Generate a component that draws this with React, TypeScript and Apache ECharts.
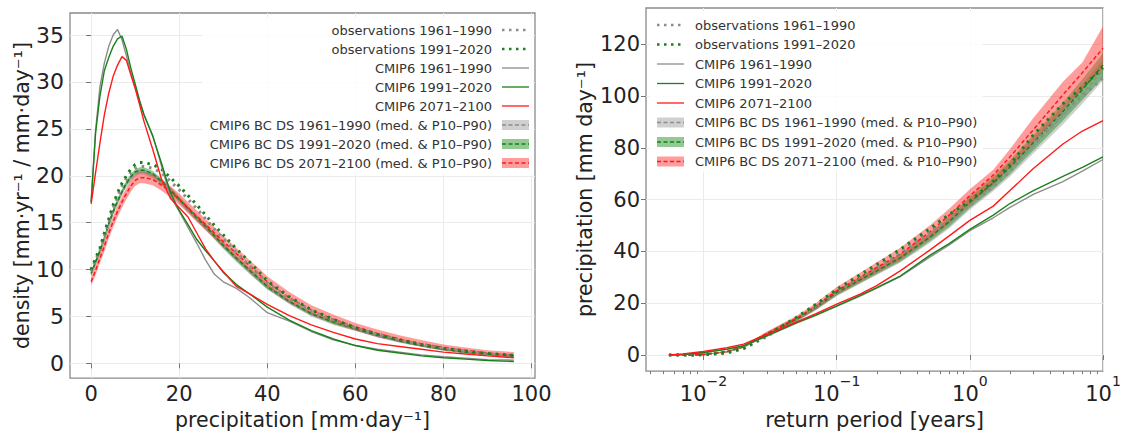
import React, { useEffect, useRef } from "react";
import * as echarts from "echarts";

// ---------- Left panel: density of daily precipitation ----------
const PRECIP = [0, 1, 2, 3, 4, 5, 6, 7, 8, 9, 10, 11, 12, 14, 16, 18, 20, 22, 24, 26, 28, 30, 33, 36, 40, 45, 50, 55, 60, 65, 70, 75, 80, 85, 90, 96];

const OBS61_DENS = [9.8, 11.0, 12.0, 13.5, 15.0, 16.5, 17.8, 18.9, 19.7, 20.3, 20.8, 21.0, 21.0, 20.8, 20.3, 19.4, 18.5, 17.5, 16.5, 15.4, 14.3, 13.3, 11.8, 10.4, 8.6, 6.9, 5.6, 4.6, 3.8, 3.1, 2.5, 2.0, 1.6, 1.3, 1.0, 0.85];
const OBS91_DENS = [10.0, 11.2, 12.3, 13.9, 15.4, 16.9, 18.2, 19.2, 20.0, 20.7, 21.2, 21.4, 21.4, 21.2, 20.7, 19.8, 18.9, 17.9, 16.9, 15.8, 14.7, 13.7, 12.2, 10.8, 8.8, 7.1, 5.7, 4.7, 3.8, 3.1, 2.5, 2.0, 1.6, 1.3, 1.05, 0.85];
const CM61_DENS = [17.2, 24.8, 29.5, 32.0, 33.8, 35.0, 35.6, 34.5, 32.8, 31.0, 29.6, 28.0, 26.5, 24.3, 21.0, 17.8, 16.2, 14.5, 12.8, 11.0, 9.5, 8.7, 8.0, 7.0, 5.4, 4.5, 3.4, 2.5, 1.9, 1.5, 1.2, 0.9, 0.7, 0.55, 0.4, 0.35];
const CM91_DENS = [17.2, 24.5, 28.5, 31.2, 32.6, 33.8, 34.6, 34.9, 33.5, 31.5, 29.8, 28.0, 26.5, 24.2, 21.3, 18.2, 16.3, 14.8, 13.2, 12.0, 10.9, 9.7, 8.4, 7.4, 6.0, 4.6, 3.5, 2.6, 1.9, 1.4, 1.1, 0.8, 0.6, 0.45, 0.3, 0.2];
const CM21_DENS = [17.0, 20.3, 23.5, 26.5, 28.8, 30.6, 31.8, 32.7, 32.3, 30.8, 29.3, 27.6, 25.8, 22.8, 19.6, 17.6, 16.6, 15.6, 13.9, 12.2, 10.9, 9.8, 8.2, 7.4, 6.3, 5.1, 4.1, 3.3, 2.6, 2.1, 1.8, 1.5, 1.2, 1.0, 0.8, 0.6];

const BC61_DENS_MED = [9.5, 10.7, 11.9, 13.3, 14.8, 16.1, 17.2, 18.2, 19.1, 19.7, 20.2, 20.4, 20.4, 20.0, 19.3, 18.4, 17.4, 16.4, 15.4, 14.5, 13.5, 12.5, 11.1, 9.8, 8.1, 6.5, 5.2, 4.3, 3.6, 2.9, 2.35, 1.85, 1.45, 1.15, 0.95, 0.75];
const BC61_DENS_LO = [9.2, 10.4, 11.6, 13.0, 14.5, 15.8, 16.9, 17.9, 18.8, 19.4, 19.9, 20.1, 20.1, 19.7, 19.0, 18.1, 17.1, 16.1, 15.1, 14.2, 13.2, 12.2, 10.8, 9.5, 7.9, 6.3, 5.0, 4.1, 3.45, 2.75, 2.2, 1.75, 1.35, 1.05, 0.85, 0.65];
const BC61_DENS_HI = [9.8, 11.0, 12.2, 13.6, 15.1, 16.4, 17.5, 18.5, 19.4, 20.0, 20.5, 20.7, 20.7, 20.3, 19.6, 18.7, 17.7, 16.7, 15.7, 14.8, 13.8, 12.8, 11.4, 10.1, 8.3, 6.7, 5.4, 4.5, 3.75, 3.05, 2.5, 1.95, 1.55, 1.25, 1.05, 0.85];
const BC91_DENS_MED = [9.6, 10.8, 12.0, 13.4, 14.9, 16.2, 17.3, 18.3, 19.2, 19.9, 20.4, 20.6, 20.6, 20.2, 19.4, 18.5, 17.5, 16.5, 15.5, 14.6, 13.6, 12.6, 11.2, 9.9, 8.2, 6.6, 5.3, 4.4, 3.7, 3.0, 2.4, 1.9, 1.5, 1.2, 1.0, 0.8];
const BC91_DENS_LO = [9.3, 10.5, 11.7, 13.1, 14.6, 15.9, 17.0, 18.0, 18.9, 19.6, 20.1, 20.3, 20.3, 19.9, 19.1, 18.2, 17.2, 16.2, 15.2, 14.3, 13.3, 12.3, 10.9, 9.6, 7.9, 6.4, 5.1, 4.2, 3.5, 2.85, 2.25, 1.8, 1.4, 1.1, 0.9, 0.7];
const BC91_DENS_HI = [9.9, 11.1, 12.3, 13.7, 15.2, 16.5, 17.6, 18.6, 19.5, 20.2, 20.7, 20.9, 20.9, 20.5, 19.7, 18.8, 17.8, 16.8, 15.8, 14.9, 13.9, 12.9, 11.5, 10.2, 8.5, 6.8, 5.5, 4.6, 3.9, 3.15, 2.55, 2.0, 1.6, 1.3, 1.1, 0.9];
const BC21_DENS_MED = [8.7, 9.9, 11.2, 12.5, 13.9, 15.1, 16.2, 17.2, 18.1, 18.9, 19.5, 19.8, 19.8, 19.6, 19.0, 18.3, 17.5, 16.6, 15.7, 14.8, 13.9, 13.0, 11.7, 10.4, 8.7, 7.0, 5.7, 4.7, 3.9, 3.2, 2.6, 2.1, 1.7, 1.4, 1.1, 0.9];
const BC21_DENS_LO = [8.3, 9.4, 10.7, 11.9, 13.3, 14.5, 15.6, 16.6, 17.5, 18.3, 18.9, 19.2, 19.2, 19.0, 18.4, 17.7, 16.9, 16.0, 15.1, 14.2, 13.3, 12.4, 11.1, 9.8, 8.2, 6.5, 5.2, 4.3, 3.5, 2.8, 2.3, 1.8, 1.4, 1.1, 0.8, 0.6];
const BC21_DENS_HI = [9.1, 10.4, 11.7, 13.1, 14.5, 15.7, 16.8, 17.8, 18.7, 19.5, 20.1, 20.4, 20.4, 20.2, 19.6, 18.9, 18.1, 17.2, 16.3, 15.4, 14.5, 13.6, 12.3, 11.0, 9.3, 7.6, 6.2, 5.2, 4.3, 3.6, 3.0, 2.5, 2.0, 1.7, 1.4, 1.2];

// ---------- Right panel: return levels ----------
const RETURN_PERIOD = [0.0055, 0.007, 0.01, 0.015, 0.02, 0.03, 0.05, 0.07, 0.1, 0.15, 0.2, 0.3, 0.5, 0.7, 1, 1.5, 2, 3, 5, 7, 10];

const OBS61_RL = [0, 0, 0.1, 0.8, 2.4, 7.2, 14.0, 19.0, 24.5, 30.3, 34.0, 39.5, 47.5, 52.8, 57.8, 65.0, 71.0, 81.5, 93.5, 100.0, 107.0];
const OBS91_RL = [0, 0, 0.1, 0.9, 2.6, 7.6, 14.6, 19.6, 25.3, 31.0, 35.0, 40.8, 48.8, 54.3, 59.5, 67.0, 73.5, 85.0, 97.0, 103.5, 111.0];
const CM61_RL = [0, 0.2, 0.9, 2.2, 3.5, 7.3, 12.3, 15.3, 18.8, 22.8, 25.8, 30.3, 37.8, 42.5, 48.0, 53.0, 57.0, 62.0, 67.0, 71.0, 75.5];
const CM91_RL = [0, 0.2, 1.0, 2.3, 3.6, 7.5, 12.5, 15.5, 19.0, 23.0, 26.0, 30.5, 38.5, 43.0, 48.5, 54.0, 58.5, 63.5, 69.0, 72.5, 76.5];
const CM21_RL = [0, 0.4, 1.4, 2.8, 4.2, 8.0, 12.8, 16.0, 19.7, 23.5, 26.8, 32.5, 40.5, 46.0, 52.0, 57.5, 63.5, 72.0, 81.5, 86.5, 90.5];

const BC61_RL_MED = [0, 0, 0.2, 1.2, 3.1, 8.0, 13.6, 18.2, 23.8, 28.7, 32.2, 37.1, 45.0, 50.9, 58.3, 65.7, 71.5, 80.8, 92.5, 100.8, 110.0];
const BC61_RL_LO = [0, 0, 0.1, 0.9, 2.7, 7.4, 12.8, 17.3, 22.7, 27.5, 30.9, 35.6, 43.3, 48.9, 56.1, 63.2, 68.8, 77.8, 89.0, 97.0, 106.0];
const BC61_RL_HI = [0, 0, 0.3, 1.5, 3.5, 8.6, 14.4, 19.1, 24.9, 29.9, 33.5, 38.6, 46.7, 52.9, 60.5, 68.2, 74.2, 83.8, 96.0, 104.6, 114.0];
const BC91_RL_MED = [0, 0, 0.2, 1.3, 3.2, 8.2, 13.8, 18.4, 24.1, 29.0, 32.5, 37.5, 45.5, 51.5, 59.0, 66.5, 72.5, 82.0, 94.0, 102.5, 112.0];
const BC91_RL_LO = [0, 0, 0.1, 1.0, 2.8, 7.6, 13.0, 17.5, 23.0, 27.8, 31.2, 36.0, 43.8, 49.5, 56.8, 64.0, 69.8, 79.0, 90.5, 98.5, 107.0];
const BC91_RL_HI = [0, 0, 0.3, 1.6, 3.6, 8.8, 14.6, 19.3, 25.2, 30.2, 33.8, 39.0, 47.2, 53.5, 61.2, 69.0, 75.2, 85.0, 97.5, 106.5, 116.5];
const BC21_RL_MED = [0, 0, 0.2, 1.3, 3.3, 8.4, 14.2, 18.9, 24.8, 30.0, 33.8, 39.0, 47.5, 54.0, 61.5, 69.5, 76.5, 87.0, 100.5, 109.0, 118.5];
const BC21_RL_LO = [0, 0, 0.1, 1.0, 2.9, 7.7, 13.2, 17.7, 23.3, 28.2, 31.8, 36.6, 44.8, 50.8, 57.8, 65.8, 72.3, 82.0, 94.5, 102.5, 110.5];
const BC21_RL_HI = [0, 0, 0.3, 1.6, 3.7, 9.1, 15.2, 20.1, 26.3, 31.8, 35.8, 41.4, 50.0, 56.5, 64.0, 71.5, 79.5, 91.5, 105.5, 113.0, 127.0];

// ---------- Tick labels / legend ----------
const DENS_Y_TICKS = [0, 5, 10, 15, 20, 25, 30, 35];
const DENS_X_TICKS = [0, 20, 40, 60, 80, 100];
const RL_Y_TICKS = [0, 20, 40, 60, 80, 100, 120];
const RL_X_TICKS = [0.01, 0.1, 1, 10];

const LEGEND_LABELS = [
  "observations 1961–1990",
  "observations 1991–2020",
  "CMIP6 1961–1990",
  "CMIP6 1991–2020",
  "CMIP6 2071–2100",
  "CMIP6 BC DS 1961–1990 (med. & P10–P90)",
  "CMIP6 BC DS 1991–2020 (med. & P10–P90)",
  "CMIP6 BC DS 2071–2100 (med. & P10–P90)",
];
const LEGEND_KINDS = ["dot", "dot", "line", "line", "line", "band", "band", "band"];

const FONT = "DejaVu Sans";
const GRAY = "#8c8c8c";
const GREEN = "#1a801a";
const RED = "#ff1a1a";
const LEGEND_COLORS = [GRAY, GREEN, GRAY, GREEN, RED, GRAY, GREEN, RED];
const BAND_FILL: Record<string, string> = {
  [GRAY]: "rgba(150,150,150,0.45)",
  [GREEN]: "rgba(40,150,40,0.5)",
  [RED]: "rgba(255,60,60,0.5)",
};

const pairs = (xs: number[], ys: number[]) => xs.map((x, i) => [x, ys[i]]);

function lineSeries(xs: number[], ys: number[], gi: number, color: string, kind: string) {
  const style: any = { color, width: 1.4 };
  if (kind === "dot") {
    style.width = 3;
    style.type = [2.5, 5];
  } else if (kind === "dash") {
    style.width = 1.5;
    style.type = [4, 2.5];
  }
  return {
    type: "line",
    xAxisIndex: gi,
    yAxisIndex: gi,
    data: pairs(xs, ys),
    symbol: "none",
    silent: true,
    lineStyle: style,
    z: kind === "dot" ? 4 : kind === "line" ? 5 : 3,
  };
}

// P10–P90 band: a polygon through the library's coordinate system
function bandSeries(xs: number[], lo: number[], hi: number[], gi: number, color: string) {
  return {
    type: "custom",
    xAxisIndex: gi,
    yAxisIndex: gi,
    silent: true,
    z: 2,
    data: xs.map((x, i) => [x, lo[i], hi[i]]),
    encode: { x: 0, y: [1, 2] },
    renderItem: (params: any, api: any) => {
      if (params.dataIndex !== 0) return null;
      const upper = xs.map((x, i) => api.coord([x, hi[i]]));
      const lower = xs.map((x, i) => api.coord([x, lo[i]])).reverse();
      return {
        type: "polygon",
        shape: { points: upper.concat(lower) },
        style: { fill: BAND_FILL[color], stroke: "none" },
      };
    },
  };
}

function legendMarker(kind: string, color: string, x: number, y: number, w: number) {
  const els: any[] = [];
  if (kind === "band") {
    els.push({ type: "rect", z: 100, shape: { x, y: y - 5, width: w, height: 10 }, style: { fill: BAND_FILL[color] } });
    els.push({ type: "line", z: 101, shape: { x1: x, y1: y, x2: x + w, y2: y }, style: { stroke: color, lineWidth: 1.5, lineDash: [4, 2.5] } });
  } else if (kind === "dot") {
    els.push({ type: "line", z: 100, shape: { x1: x, y1: y, x2: x + w, y2: y }, style: { stroke: color, lineWidth: 2.5, lineDash: [2.5, 4.5] } });
  } else {
    els.push({ type: "line", z: 100, shape: { x1: x, y1: y, x2: x + w, y2: y }, style: { stroke: color, lineWidth: 1.3 } });
  }
  return els;
}

function buildLegend(markerX: number, textX: number, align: string, y0: number, dy: number) {
  const els: any[] = [];
  LEGEND_LABELS.forEach((label, i) => {
    const y = y0 + i * dy;
    els.push(...legendMarker(LEGEND_KINDS[i], LEGEND_COLORS[i], markerX, y, 27));
    els.push({
      type: "text",
      z: 100,
      x: textX,
      y,
      style: { text: label, fill: "#333", font: `13px "${FONT}"`, textAlign: align, textVerticalAlign: "middle" },
    });
  });
  return els;
}

function logLabel(v: number) {
  const e = Math.round(Math.log10(v));
  if (Math.abs(Math.log10(v) - e) > 0.01) return "";
  return `{b|10}{s|${e < 0 ? "−" : ""}${Math.abs(e)}}`;
}

const axisText = { color: "#222", fontFamily: FONT };

export default function App() {
  const ref = useRef<HTMLDivElement>(null);
  useEffect(() => {
    if (!ref.current) return;
    const chart = echarts.init(ref.current, undefined, { renderer: "svg" });

    const minorTicks: number[] = [];
    for (let d = -3; d <= 0; d++) {
      for (let k = 2; k <= 9; k++) {
        const v = k * Math.pow(10, d);
        if (v > 0.0037 && v < 10) minorTicks.push(v);
      }
    }

    const series: any[] = [
      bandSeries(PRECIP, BC61_DENS_LO, BC61_DENS_HI, 0, GRAY),
      bandSeries(PRECIP, BC91_DENS_LO, BC91_DENS_HI, 0, GREEN),
      bandSeries(PRECIP, BC21_DENS_LO, BC21_DENS_HI, 0, RED),
      lineSeries(PRECIP, BC61_DENS_MED, 0, GRAY, "dash"),
      lineSeries(PRECIP, BC91_DENS_MED, 0, GREEN, "dash"),
      lineSeries(PRECIP, BC21_DENS_MED, 0, RED, "dash"),
      lineSeries(PRECIP, OBS61_DENS, 0, GRAY, "dot"),
      lineSeries(PRECIP, OBS91_DENS, 0, GREEN, "dot"),
      lineSeries(PRECIP, CM61_DENS, 0, GRAY, "line"),
      lineSeries(PRECIP, CM91_DENS, 0, GREEN, "line"),
      lineSeries(PRECIP, CM21_DENS, 0, RED, "line"),

      bandSeries(RETURN_PERIOD, BC61_RL_LO, BC61_RL_HI, 1, GRAY),
      bandSeries(RETURN_PERIOD, BC91_RL_LO, BC91_RL_HI, 1, GREEN),
      bandSeries(RETURN_PERIOD, BC21_RL_LO, BC21_RL_HI, 1, RED),
      lineSeries(RETURN_PERIOD, BC61_RL_MED, 1, GRAY, "dash"),
      lineSeries(RETURN_PERIOD, BC91_RL_MED, 1, GREEN, "dash"),
      lineSeries(RETURN_PERIOD, BC21_RL_MED, 1, RED, "dash"),
      lineSeries(RETURN_PERIOD, OBS61_RL, 1, GRAY, "dot"),
      lineSeries(RETURN_PERIOD, OBS91_RL, 1, GREEN, "dot"),
      lineSeries(RETURN_PERIOD, CM61_RL, 1, GRAY, "line"),
      lineSeries(RETURN_PERIOD, CM91_RL, 1, GREEN, "line"),
      lineSeries(RETURN_PERIOD, CM21_RL, 1, RED, "line"),
    ];

    const tickStyle = { show: true, length: 5, lineStyle: { color: "#777", width: 1 } };
    const split = { show: true, lineStyle: { color: "#ebebeb", width: 1 } };

    chart.setOption({
      animation: false,
      backgroundColor: "#ffffff",
      grid: [
        { left: 70, top: 13, width: 465, height: 367, show: true, borderColor: "#8a8a8a", borderWidth: 1.3, backgroundColor: "transparent" },
        { left: 646, top: 8, width: 457, height: 370, show: true, borderColor: "#8a8a8a", borderWidth: 1.3, backgroundColor: "transparent" },
      ],
      xAxis: [
        {
          type: "value", gridIndex: 0, min: -4.8, max: 100.8, minInterval: 20, maxInterval: 20,
          axisLine: { show: false },
          axisTick: { ...tickStyle, customValues: DENS_X_TICKS },
          axisLabel: { ...axisText, fontSize: 21, margin: 5, customValues: DENS_X_TICKS },
          splitLine: split,
          name: "precipitation [mm·day⁻¹]", nameLocation: "middle", nameGap: 27,
          nameTextStyle: { ...axisText, fontSize: 20.5 },
        },
        {
          type: "log", gridIndex: 1, logBase: 10, min: 0.0037, max: 10, splitNumber: 4,
          axisLine: { show: false },
          axisTick: { ...tickStyle, customValues: RL_X_TICKS },
          axisLabel: {
            ...axisText, margin: 3, customValues: RL_X_TICKS,
            formatter: logLabel,
            rich: {
              b: { fontSize: 21, fontFamily: FONT, color: "#222", lineHeight: 30, verticalAlign: "bottom" },
              s: { fontSize: 14, fontFamily: FONT, color: "#222", verticalAlign: "top", lineHeight: 14 },
            },
          },
          splitLine: split,
          name: "return period [years]", nameLocation: "middle", nameGap: 35,
          nameTextStyle: { ...axisText, fontSize: 21 },
        },
        {
          type: "log", gridIndex: 1, logBase: 10, min: 0.0037, max: 10, position: "bottom",
          axisLine: { show: false },
          axisTick: { show: true, length: 3, lineStyle: { color: "#777" }, customValues: minorTicks },
          axisLabel: { show: false },
          splitLine: { show: false },
        },
      ],
      yAxis: [
        {
          type: "value", gridIndex: 0, min: -1.57, max: 37.35, minInterval: 5, maxInterval: 5,
          axisLine: { show: false },
          axisTick: { ...tickStyle, customValues: DENS_Y_TICKS },
          axisLabel: { ...axisText, fontSize: 22, margin: 6, customValues: DENS_Y_TICKS },
          splitLine: split,
          name: "density [mm·yr⁻¹ / mm·day⁻¹]", nameLocation: "middle", nameGap: 37,
          nameTextStyle: { ...axisText, fontSize: 20.5 },
        },
        {
          type: "value", gridIndex: 1, min: -6.2, max: 134, minInterval: 20, maxInterval: 20,
          axisLine: { show: false },
          axisTick: { ...tickStyle, customValues: RL_Y_TICKS },
          axisLabel: { ...axisText, fontSize: 21, margin: 6, customValues: RL_Y_TICKS },
          splitLine: split,
          name: "precipitation [mm day⁻¹]", nameLocation: "middle", nameGap: 51,
          nameTextStyle: { ...axisText, fontSize: 20.5 },
        },
      ],
      series,
      graphic: [
        { type: "rect", z: 90, shape: { x: 202, y: 17, width: 331, height: 158 }, style: { fill: "rgba(255,255,255,0.85)" } },
        { type: "rect", z: 90, shape: { x: 649, y: 11, width: 334, height: 161 }, style: { fill: "rgba(255,255,255,0.85)" } },
        ...buildLegend(502, 492, "right", 30, 19),
        ...buildLegend(657, 695, "left", 25, 19.5),
      ],
    });
    return () => chart.dispose();
  }, []);

  return <div ref={ref} style={{ position: "absolute", left: 0, top: 0, width: 1124, height: 435 }} />;
}
